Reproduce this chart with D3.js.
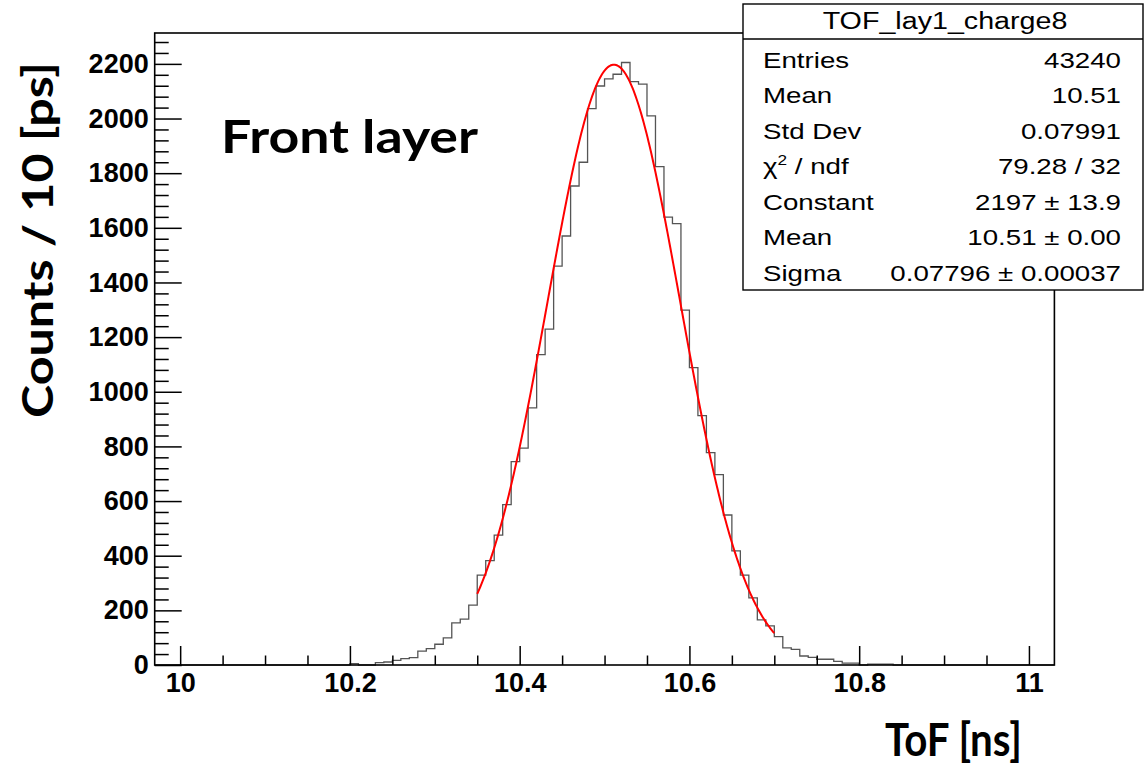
<!DOCTYPE html>
<html>
<head>
<meta charset="utf-8">
<script src="https://cdn.jsdelivr.net/npm/d3@7"></script>
<style>
  html, body { margin: 0; padding: 0; background: #fff; }
  svg { display: block; }
</style>
</head>
<body>
<svg id="chart" width="1148" height="766"></svg>
<script>
// ---------------- data ----------------
const binLow = [10.20,10.21,10.22,10.23,10.24,10.25,10.26,10.27,10.28,10.29,
                10.30,10.31,10.32,10.33,10.34,10.35,10.36,10.37,10.38,10.39,
                10.40,10.41,10.42,10.43,10.44,10.45,10.46,10.47,10.48,10.49,
                10.50,10.51,10.52,10.53,10.54,10.55,10.56,10.57,10.58,10.59,
                10.60,10.61,10.62,10.63,10.64,10.65,10.66,10.67,10.68,10.69,
                10.70,10.71,10.72,10.73,10.74,10.75,10.76,10.77,10.78,10.79,
                10.80,10.81,10.82,10.83];
const binCounts = [5,0,0,9,11,17,23,27,51,60,
                   76,99,154,168,219,329,382,475,587,744,
                   794,941,1136,1229,1460,1570,1753,1840,2036,2119,
                   2145,2162,2205,2135,2126,2010,1824,1639,1615,1299,
                   1088,913,777,697,549,418,329,246,165,143,
                   104,63,57,33,28,21,21,13,7,7,
                   0,3,3,3];
const binWidth = 0.01;
const histRange = [9.97, 11.03];
const yMax = 2313;

// Gaussian fit parameters (from the stats box)
const fitConstant = 2197;
const fitMean = 10.511;
const fitSigma = 0.07796;
const fitRange = [10.35, 10.70];

const xTickValues = [10, 10.2, 10.4, 10.6, 10.8, 11];
const xTickLabels = ["10", "10.2", "10.4", "10.6", "10.8", "11"];
const yTickValues = [0,200,400,600,800,1000,1200,1400,1600,1800,2000,2200];
const yTickLabels = ["0","200","400","600","800","1000","1200","1400","1600","1800","2000","2200"];

const statsTitle = "TOF_lay1_charge8";
const statsNames = ["Entries", "Mean", "Std Dev", "CHI", "Constant", "Mean", "Sigma"];
const statsValues = ["43240", "10.51", "0.07991", "79.28 / 32", "2197 \u00B1 13.9", "10.51 \u00B1 0.00", "0.07796 \u00B1 0.00037"];

const titleText = "Front layer";
const xTitle = "ToF [ns]";
const yTitle = "Counts / 10 [ps]";

// ---------------- layout ----------------
const svg = d3.select("#chart");
const L = 154.7, R = 1054.4, T = 33, B = 665;

const x = d3.scaleLinear().domain(histRange).range([L, R]);
const y = d3.scaleLinear().domain([0, yMax]).range([B, T]);

const tickFont = "'Liberation Sans', Arial, Helvetica, sans-serif";
const titleFont = "Lato, 'Open Sans', sans-serif";

// histogram
const pts = [[histRange[0], 0]];
binLow.forEach((b, i) => pts.push([b, binCounts[i]]));
pts.push([binLow[binLow.length - 1] + binWidth, 0]);
pts.push([histRange[1], 0]);
const histLine = d3.line().x(d => x(d[0])).y(d => y(d[1])).curve(d3.curveStepAfter);
svg.append("path").attr("d", histLine(pts))
  .attr("fill", "none").attr("stroke", "#555").attr("stroke-width", 1.3);

// fit curve
const nS = 300;
const fitPts = d3.range(nS + 1).map(i => {
  const v = fitRange[0] + (fitRange[1] - fitRange[0]) * i / nS;
  return [v, fitConstant * Math.exp(-0.5 * Math.pow((v - fitMean) / fitSigma, 2))];
});
svg.append("path").attr("d", d3.line().x(d => x(d[0])).y(d => y(d[1]))(fitPts))
  .attr("fill", "none").attr("stroke", "#ff0000").attr("stroke-width", 2);

// frame
svg.append("rect").attr("x", L).attr("y", T).attr("width", R - L).attr("height", B - T)
  .attr("fill", "none").attr("stroke", "#000").attr("stroke-width", 1.6);

// x axis
const xMinor = d3.range(0, 23).map(i => 9.95 + i * 0.05).filter(v => v >= histRange[0] && v <= histRange[1] && !xTickValues.some(t => Math.abs(t - v) < 1e-6));
const gxMinor = svg.append("g").attr("transform", `translate(0,${B})`)
  .call(d3.axisBottom(x).tickValues(xMinor).tickSizeInner(-9.5).tickSizeOuter(0).tickFormat(""));
const gx = svg.append("g").attr("transform", `translate(0,${B})`)
  .call(d3.axisBottom(x).tickValues(xTickValues).tickSizeInner(-19).tickSizeOuter(0).tickPadding(8)
        .tickFormat((d, i) => xTickLabels[i]));

// y axis
const yMinor = d3.range(0, 58).map(i => i * 40).filter(v => v <= yMax && v % 200 !== 0);
const gyMinor = svg.append("g").attr("transform", `translate(${L},0)`)
  .call(d3.axisLeft(y).tickValues(yMinor).tickSizeInner(-14).tickSizeOuter(0).tickFormat(""));
const gy = svg.append("g").attr("transform", `translate(${L},0)`)
  .call(d3.axisLeft(y).tickValues(yTickValues).tickSizeInner(-27).tickSizeOuter(0).tickPadding(6)
        .tickFormat((d, i) => yTickLabels[i]));

[gxMinor, gx, gyMinor, gy].forEach(g => {
  g.select(".domain").remove();
  g.selectAll("line").attr("stroke", "#000").attr("stroke-width", 1.5);
  g.selectAll("text").attr("font-family", tickFont).attr("font-weight", "bold")
    .attr("font-size", 27).attr("fill", "#000");
});

// titles
svg.append("text").attr("x", 221).attr("y", 153).text(titleText)
  .attr("font-family", titleFont).attr("font-weight", "bold").attr("font-size", 45)
  .attr("textLength", 257).attr("lengthAdjust", "spacingAndGlyphs").attr("fill", "#000");

svg.append("text").attr("x", 885).attr("y", 756).text(xTitle)
  .attr("font-family", titleFont).attr("font-weight", "bold").attr("font-size", 46)
  .attr("textLength", 137).attr("lengthAdjust", "spacingAndGlyphs").attr("fill", "#000");

svg.append("text").attr("transform", "translate(53,418) rotate(-90)").text(yTitle)
  .attr("font-family", titleFont).attr("font-weight", "bold").attr("font-size", 42)
  .attr("textLength", 356).attr("lengthAdjust", "spacingAndGlyphs").attr("fill", "#000");

// stats box
const bx = 743, by = 4, bw = 400, bh = 286, sx = 1.23;
svg.append("rect").attr("x", bx).attr("y", by).attr("width", bw).attr("height", bh)
  .attr("fill", "#fff").attr("stroke", "#000").attr("stroke-width", 1.4);
svg.append("line").attr("x1", bx).attr("x2", bx + bw).attr("y1", 39).attr("y2", 39)
  .attr("stroke", "#000").attr("stroke-width", 1.4);

function stText(px, py, anchor, size) {
  return svg.append("text")
    .attr("transform", `translate(${px},${py}) scale(${sx},1)`)
    .attr("text-anchor", anchor)
    .attr("font-family", tickFont).attr("font-size", size).attr("fill", "#000");
}
stText(945, 29, "middle", 23.3).text(statsTitle);

const rowY0 = 68, rowDy = 35.45;
statsNames.forEach((n, i) => {
  const yy = rowY0 + i * rowDy;
  const t = stText(763, yy, "start", 22.5);
  if (n === "CHI") {
    t.append("tspan").text("\u03C7");
    t.append("tspan").attr("font-size", 14).attr("dy", -9).text("2");
    t.append("tspan").attr("dy", 9).text(" / ndf");
  } else {
    t.text(n);
  }
  stText(1121, yy, "end", 22.5).text(statsValues[i]);
});
</script>
</body>
</html>
